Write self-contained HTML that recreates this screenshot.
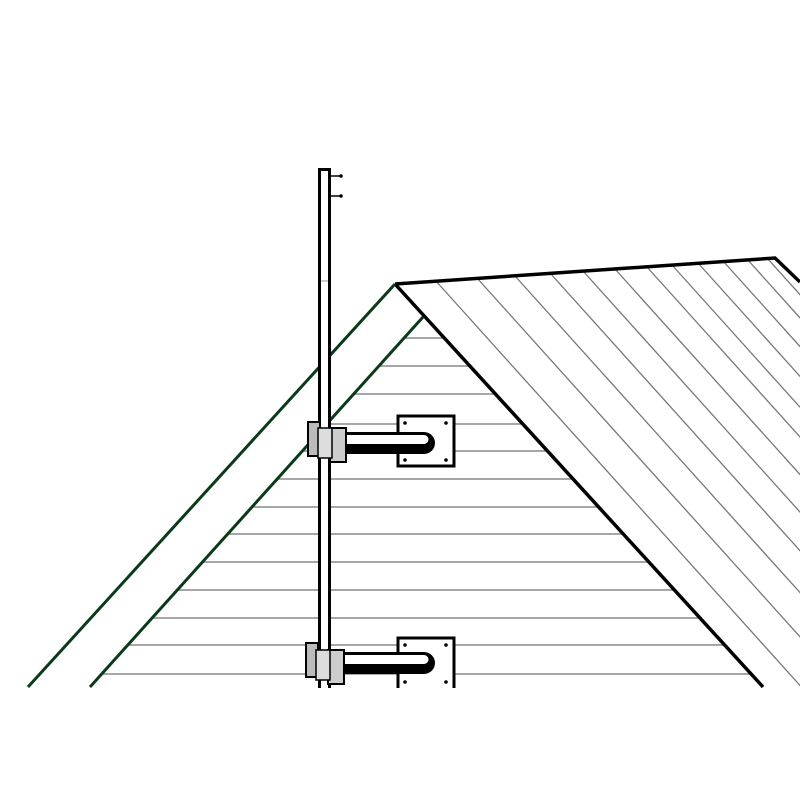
<!DOCTYPE html>
<html><head><style>html,body{margin:0;padding:0;background:#fff;}svg{display:block}</style></head>
<body>
<svg width="800" height="800" viewBox="0 0 800 800" xmlns="http://www.w3.org/2000/svg">
<defs>
<clipPath id="roof"><polygon points="395,284 775,258 800,282 800,687 763,687"/></clipPath>
<clipPath id="gable"><polygon points="423,317 763,687 90,687"/></clipPath>
</defs>
<rect width="800" height="800" fill="#fff"/>
<g clip-path="url(#roof)" stroke="#777" stroke-width="1.3">
<line x1="435" y1="280" x2="805" y2="691"/>
<line x1="477" y1="278" x2="847" y2="689"/>
<line x1="515" y1="276" x2="885" y2="687"/>
<line x1="550" y1="273" x2="920" y2="684"/>
<line x1="583" y1="271" x2="953" y2="682"/>
<line x1="615" y1="269" x2="985" y2="680"/>
<line x1="647" y1="267" x2="1017" y2="678"/>
<line x1="672" y1="265" x2="1042" y2="676"/>
<line x1="698" y1="263" x2="1068" y2="674"/>
<line x1="723" y1="261" x2="1093" y2="672"/>
<line x1="747" y1="259" x2="1117" y2="670"/>
<line x1="767" y1="258" x2="1137" y2="669"/>
<line x1="787" y1="262" x2="1157" y2="673"/>
</g>
<g clip-path="url(#gable)" stroke="#888" stroke-width="1.5">
<line x1="0" y1="338" x2="800" y2="338"/>
<line x1="0" y1="366" x2="800" y2="366"/>
<line x1="0" y1="394" x2="800" y2="394"/>
<line x1="0" y1="424" x2="800" y2="424"/>
<line x1="0" y1="451" x2="800" y2="451"/>
<line x1="0" y1="479" x2="800" y2="479"/>
<line x1="0" y1="507" x2="800" y2="507"/>
<line x1="0" y1="534" x2="800" y2="534"/>
<line x1="0" y1="562" x2="800" y2="562"/>
<line x1="0" y1="590" x2="800" y2="590"/>
<line x1="0" y1="618" x2="800" y2="618"/>
<line x1="0" y1="645" x2="800" y2="645"/>
<line x1="0" y1="674" x2="800" y2="674"/>
</g>
<polyline points="395,284 775,258 800,282" fill="none" stroke="#000" stroke-width="3.5"/>
<line x1="395" y1="284" x2="763" y2="687" stroke="#000" stroke-width="3.5"/>
<line x1="395" y1="284" x2="28" y2="687" stroke="#0b3a1a" stroke-width="3"/>
<line x1="423" y1="317" x2="90" y2="687" stroke="#0b3a1a" stroke-width="3"/>
<rect x="319.5" y="169.5" width="10" height="520" fill="#fff" stroke="#000" stroke-width="3"/>
<line x1="321" y1="281" x2="328" y2="281" stroke="#999" stroke-width="1"/>
<line x1="331" y1="176" x2="340" y2="176" stroke="#000" stroke-width="1.5"/>
<circle cx="341" cy="176" r="1.8" fill="#000"/>
<line x1="331" y1="196" x2="340" y2="196" stroke="#000" stroke-width="1.5"/>
<circle cx="341" cy="196" r="1.8" fill="#000"/>
<g>
<rect x="398" y="416" width="56" height="50" fill="#fff" stroke="#000" stroke-width="3"/>
<circle cx="405" cy="423" r="1.8" fill="#000"/><circle cx="446" cy="423" r="1.8" fill="#000"/>
<circle cx="405" cy="460" r="1.8" fill="#000"/><circle cx="446" cy="460" r="1.8" fill="#000"/>
<path d="M340,432 H424 a11,11 0 0 1 0,22 H340 Z" fill="#000"/>
<path d="M343,435 H424 a4.5,4.5 0 0 1 0,9 H343 Z" fill="#fff"/>
<rect x="308" y="422" width="12" height="34" fill="#bbb" stroke="#000" stroke-width="2"/>
<rect x="330" y="428" width="16" height="34" fill="#ccc" stroke="#000" stroke-width="2"/>
<rect x="318" y="428" width="14" height="30" fill="#ddd" stroke="#000" stroke-width="1.5"/>
</g>
<g>
<rect x="398" y="638" width="56" height="52" fill="#fff" stroke="#000" stroke-width="3"/>
<circle cx="405" cy="645" r="1.8" fill="#000"/><circle cx="446" cy="645" r="1.8" fill="#000"/>
<circle cx="405" cy="682" r="1.8" fill="#000"/><circle cx="446" cy="682" r="1.8" fill="#000"/>
<path d="M340,652 H424 a11,11 0 0 1 0,22 H340 Z" fill="#000"/>
<path d="M343,655 H424 a4.5,4.5 0 0 1 0,9 H343 Z" fill="#fff"/>
<rect x="306" y="643" width="12" height="34" fill="#bbb" stroke="#000" stroke-width="2"/>
<rect x="328" y="650" width="16" height="34" fill="#ccc" stroke="#000" stroke-width="2"/>
<rect x="316" y="650" width="14" height="30" fill="#ddd" stroke="#000" stroke-width="1.5"/>
</g>
<rect x="0" y="688" width="800" height="112" fill="#fff"/>
</svg>
</body></html>
